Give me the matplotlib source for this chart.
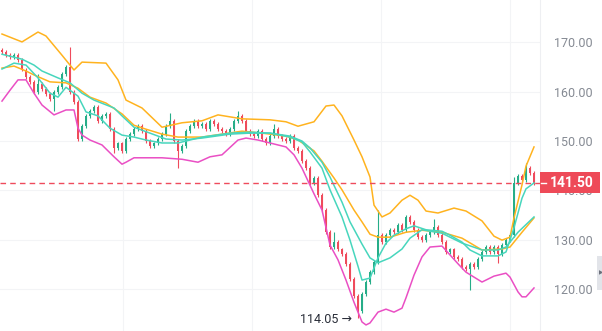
import matplotlib.pyplot as plt
import matplotlib.transforms as mtransforms
from matplotlib.patches import Rectangle

plt.rcParams['font.family'] = ['Roboto', 'DejaVu Sans']

# candle closes, one per bar (open = previous close)
first_open = 168.5
closes = [168.0, 167.5, 167.0, 167.5, 166.5, 164.5, 163.0, 162.0, 160.0, 161.5,
          160.5, 159.5, 158.5, 160.0, 161.0, 163.5, 165.0, 160.0, 158.0, 150.5,
          153.0, 155.0, 156.0, 157.0, 154.0, 155.0, 155.5, 152.5, 148.5, 149.5,
          148.0, 150.5, 151.5, 152.5, 153.0, 152.0, 150.0, 149.0, 149.5, 150.5,
          151.5, 153.0, 154.0, 150.0, 148.0, 149.0, 152.0, 153.0, 154.0, 153.0,
          153.5, 152.5, 154.0, 153.5, 152.5, 152.0, 151.5, 152.5, 154.0, 155.0,
          154.0, 152.0, 151.5, 151.0, 152.0, 150.5, 149.5, 151.0, 152.5, 151.0,
          150.5, 150.0, 151.0, 148.5, 148.0, 146.0, 144.5, 141.5, 142.5, 139.0,
          136.0, 131.5, 128.5, 129.5, 128.0, 127.0, 125.0, 122.0, 118.5, 115.5,
          119.0, 121.5, 123.5, 125.5, 131.0, 129.5, 131.0, 132.0, 131.5, 133.0,
          132.0, 134.5, 133.5, 132.0, 130.5, 130.0, 131.0, 131.5, 132.5, 131.0,
          129.5, 127.5, 128.0, 126.5, 126.0, 124.5, 124.0, 125.0, 124.5, 126.0,
          127.5, 128.5, 127.5, 128.5, 127.0, 129.0, 130.0, 131.0, 141.5, 143.0,
          142.0, 144.5, 143.5, 141.5]

# long wicks (bar index -> price)
wick_hi = {9: 163.5, 17: 169.0, 42: 155.7, 59: 156.0, 68: 153.5, 83: 131.5,
           94: 136.0, 108: 134.2, 128: 142.8, 131: 145.5}
wick_lo = {13: 156.0, 19: 150.0, 28: 147.5, 44: 144.5, 89: 114.05,
           117: 119.8, 124: 125.3}
low_label = 114.05
low_bar = 89

# indicator lines: (bar index, price)
orange_top_x = [0, 5, 9, 11, 15, 18, 20, 26, 29, 31, 35, 40, 45, 50, 54, 60, 67, 71,
                74, 78, 81, 83, 85, 88, 90, 92, 93, 95, 97, 100, 102, 104, 106, 109,
                113, 116, 120, 123, 125, 127, 128, 130, 131, 133]
orange_top_y = [171.7, 170.1, 172.1, 171.3, 167.4, 164.4, 166.0, 165.8, 162.4, 158.3,
                156.7, 152.8, 153.7, 154.1, 155.3, 154.5, 154.3, 153.9, 153.0, 153.9,
                157.1, 157.3, 155.1, 150.2, 146.8, 142.7, 137.0, 134.6, 135.4, 138.0,
                139.0, 138.0, 135.8, 135.4, 136.4, 135.8, 133.8, 130.7, 129.9, 130.5,
                134.4, 141.1, 144.9, 148.8]

orange_mid_x = [0, 3, 6, 8, 12, 16, 19, 22, 26, 30, 33, 36, 40, 44, 50, 60, 65, 71,
                74, 78, 80, 83, 85, 88, 90, 92, 94, 97, 101, 105, 110, 115, 120, 125,
                127, 130, 133]
orange_mid_y = [164.8, 165.2, 164.2, 163.4, 162.0, 161.8, 160.7, 158.9, 157.7, 155.5,
                153.2, 152.4, 151.4, 150.8, 150.8, 152.0, 151.6, 151.0, 150.2, 148.0,
                145.9, 142.5, 140.1, 136.0, 133.6, 131.1, 130.5, 130.5, 131.5, 131.9,
                131.5, 130.3, 127.9, 128.1, 128.5, 131.5, 134.4]

teal_slow_x = [0, 5, 8, 10, 14, 17, 20, 23, 28, 30, 33, 37, 41, 45, 50, 57, 62, 67,
               72, 75, 77, 80, 82, 85, 87, 90, 92, 94, 97, 100, 102, 105, 110, 115,
               120, 124, 126, 129, 133]
teal_slow_y = [167.6, 166.6, 165.4, 164.2, 162.8, 161.8, 159.7, 158.3, 156.7, 155.1,
               152.8, 151.6, 150.4, 150.2, 150.6, 151.4, 151.6, 151.6, 151.0, 150.0,
               148.6, 145.7, 142.7, 137.6, 133.6, 129.1, 126.3, 125.3, 126.3, 128.1,
               130.3, 132.0, 131.3, 129.3, 127.9, 127.9, 128.5, 131.5, 134.6]

teal_fast_x = [0, 3, 6, 9, 12, 14, 16, 19, 21, 24, 27, 30, 33, 36, 40, 44, 47, 50,
               57, 62, 67, 72, 75, 77, 80, 82, 85, 87, 89, 90, 92, 94, 96, 98, 101,
               103, 106, 110, 112, 115, 117, 120, 124, 126, 128, 130, 131, 133]
teal_fast_y = [164.6, 165.8, 165.4, 162.8, 159.7, 158.9, 160.9, 159.1, 155.9, 155.1,
               152.6, 151.2, 150.8, 150.2, 149.6, 149.6, 150.2, 150.8, 151.6, 151.8,
               151.6, 150.8, 149.8, 147.8, 144.5, 140.1, 134.6, 129.9, 124.6, 121.8,
               122.2, 126.3, 129.3, 130.9, 132.2, 132.8, 132.0, 131.7, 130.9, 129.5,
               127.9, 126.7, 126.7, 127.5, 132.4, 138.4, 140.3, 141.5]

magenta_x = [0, 2, 4, 6, 8, 10, 13, 16, 18, 19, 20, 22, 25, 28, 30, 31, 33, 40, 45,
             49, 52, 55, 59, 61, 64, 67, 71, 73, 75, 78, 80, 82, 84, 86, 88, 90, 91,
             92, 94, 96, 98, 100, 101, 103, 105, 107, 110, 112, 114, 116, 120, 123,
             126, 127, 129, 130, 131, 133]
magenta_y = [158.1, 160.3, 162.4, 162.4, 159.7, 157.3, 155.3, 156.3, 156.3, 152.6,
             151.2, 150.2, 149.2, 146.8, 145.3, 145.7, 146.6, 146.6, 146.3, 145.7,
             146.8, 147.2, 150.2, 150.6, 150.2, 149.6, 148.8, 147.2, 144.5, 139.3,
             136.0, 128.9, 125.9, 121.8, 117.3, 113.3, 112.7, 113.1, 115.3, 115.9,
             115.3, 116.1, 118.2, 122.8, 126.5, 128.5, 128.7, 126.9, 125.1, 123.4,
             121.4, 122.6, 123.2, 122.4, 119.4, 118.4, 118.4, 120.2]

y_ticks = [120, 130, 140, 150, 160, 170]
date_grid = [30.25, 62.5, 94.75, 127]

up_col = '#26ad88'
down_col = '#ef4b5c'

fig = plt.figure(figsize=(6.02, 3.31), dpi=100)
ax = fig.add_axes([0, 0, 540 / 602, 1])

ax.set_xlim(-0.5, 134.5)
ax.set_ylim(111.47, 178.6)

for v in y_ticks:
    ax.axhline(v, color='#f3f4f6', lw=0.8, zorder=0)
for g in date_grid:
    ax.axvline(g, color='#f3f4f6', lw=0.8, zorder=0)

opens = [first_open] + closes[:-1]
for i, (o, c) in enumerate(zip(opens, closes)):
    col = up_col if c >= o else down_col
    hi = wick_hi.get(i, max(o, c) + 0.4)
    lo = wick_lo.get(i, min(o, c) - 0.4)
    ax.vlines(i, lo, hi, color=col, lw=0.8, zorder=2)
    h = max(abs(c - o), 0.25)
    ax.bar(i, h, bottom=min(o, c), width=0.7, color=col, lw=0, zorder=2)

ax.plot(orange_top_x, orange_top_y, color='#ffb31f', lw=1.1, zorder=3)
ax.plot(orange_mid_x, orange_mid_y, color='#ffb31f', lw=1.1, zorder=3)
ax.plot(teal_slow_x, teal_slow_y, color='#47d6bd', lw=1.1, zorder=3)
ax.plot(teal_fast_x, teal_fast_y, color='#47d6bd', lw=1.1, zorder=3)
ax.plot(magenta_x, magenta_y, color='#ea4fc4', lw=1.1, zorder=3)

last = closes[-1]
ax.axhline(last, color=down_col, lw=1, ls=(0, (4, 3)), zorder=4)

ax.annotate(f'{low_label:.2f} \u2192', xy=(low_bar - 1.6, 113.9), ha='right', va='center',
            fontsize=9, color='#2a2e39')

ax.yaxis.tick_right()
ax.set_yticks(y_ticks)
ax.set_yticklabels([f'{v:.2f}' for v in y_ticks])
ax.tick_params(axis='y', length=0, pad=10, labelsize=9, labelcolor='#858a93')
ax.set_xticks([])
for s in ['top', 'left', 'bottom']:
    ax.spines[s].set_visible(False)
ax.spines['right'].set_color('#eeeff2')
ax.spines['right'].set_linewidth(0.8)

# last price tag on the axis
tr = mtransforms.blended_transform_factory(fig.transFigure, ax.transData)
fig.patches.append(Rectangle((540 / 602, last - 2.13), 60 / 602, 4.26, transform=tr,
                             facecolor='#ee4a58', edgecolor='none', zorder=5))
fig.lines.append(plt.Line2D([541 / 602, 546 / 602], [last, last], transform=tr,
                            color='white', lw=1, zorder=6))
fig.text(572 / 602, last, f'{last:.2f}', transform=tr, ha='center', va='center',
         fontsize=10, fontweight='bold', color='white', zorder=7)

# little scroll tab at the right edge
fig.patches.append(Rectangle((597 / 602, 41 / 331), 6 / 602, 34 / 331,
                             transform=fig.transFigure, facecolor='#e2e4e9',
                             edgecolor='none'))
fig.text(598.5 / 602, 58 / 331, '\u25B6', fontsize=4, color='#6b6f7a',
         ha='left', va='center')

fig.savefig('out.png', dpi=100)
